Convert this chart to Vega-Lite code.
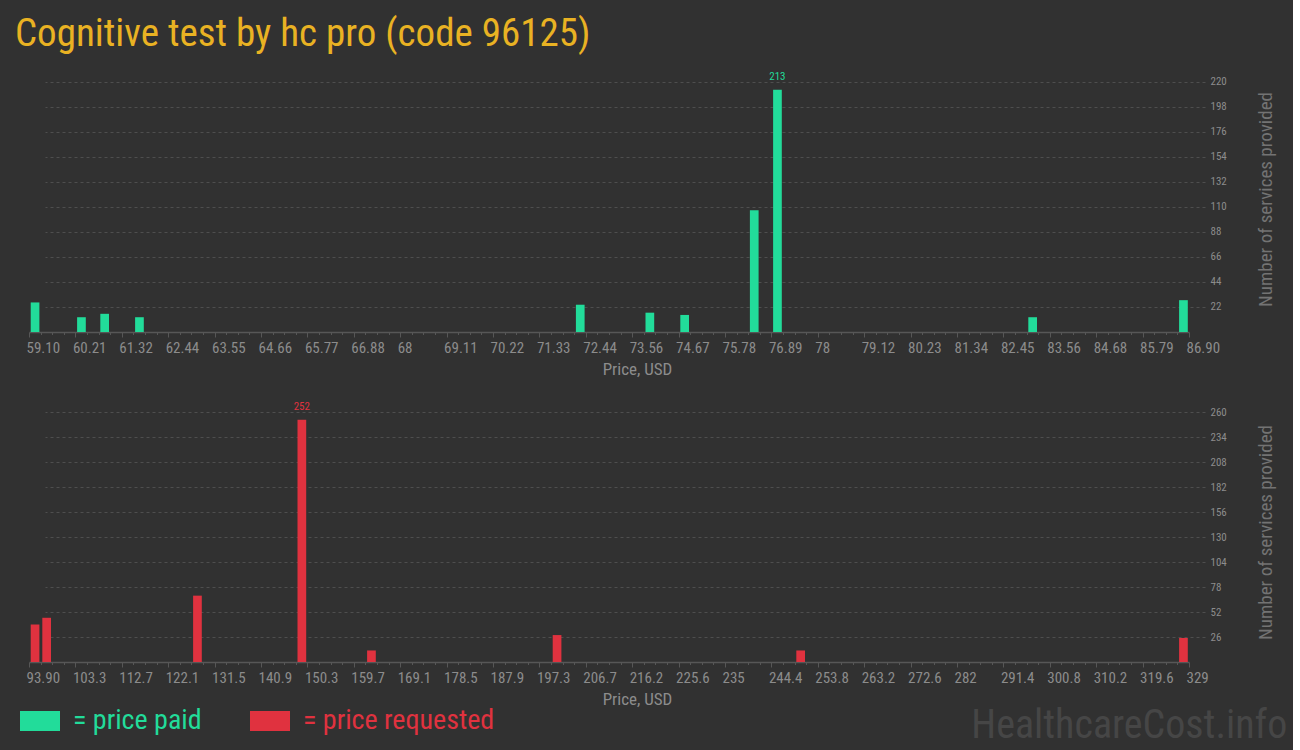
{
  "$schema": "https://vega.github.io/schema/vega-lite/v6.json",
  "background": "#313131",
  "padding": {"left": 15, "top": 15, "right": 5, "bottom": 5},
  "title": {
    "text": "Cognitive test by hc pro (code 96125)",
    "anchor": "start",
    "frame": "group",
    "dx": -14,
    "offset": -19,
    "baseline": "alphabetic",
    "fontSize": 39,
    "fontWeight": "normal",
    "color": "#e9b223"
  },
  "config": {
    "font": "Roboto Condensed, Liberation Sans Narrow, DejaVu Sans Condensed, sans-serif",
    "view": {"stroke": null}
  },
  "bounds": "flush",
  "spacing": 70,
  "resolve": {"scale": {"color": "shared"}, "legend": {"color": "shared"}},
  "vconcat": [
    {
      "width": 1176,
      "height": 266,
      "data": {
        "values": [
          {"lo": 59.1, "hi": 59.378, "n": 26, "series": "= price paid"},
          {"lo": 60.212, "hi": 60.49, "n": 13, "series": "= price paid"},
          {"lo": 60.768, "hi": 61.046, "n": 16, "series": "= price paid"},
          {"lo": 61.602, "hi": 61.88, "n": 13, "series": "= price paid"},
          {"lo": 72.166, "hi": 72.444, "n": 24, "series": "= price paid"},
          {"lo": 73.834, "hi": 74.112, "n": 17, "series": "= price paid"},
          {"lo": 74.668, "hi": 74.946, "n": 15, "series": "= price paid"},
          {"lo": 76.336, "hi": 76.614, "n": 107, "series": "= price paid"},
          {"lo": 76.892, "hi": 77.17, "n": 213, "series": "= price paid"},
          {"lo": 83.008, "hi": 83.286, "n": 13, "series": "= price paid"},
          {"lo": 86.622, "hi": 86.9, "n": 28, "series": "= price paid"}
        ]
      },
      "layer": [
        {
          "mark": {"type": "rect", "xOffset": 1.7, "x2Offset": -1.2},
          "encoding": {
            "x": {
              "field": "lo", "type": "quantitative",
              "scale": {"domain": [59.1, 86.9], "range": [0, 1160], "nice": false, "zero": false},
              "axis": {
                "title": "Price, USD",
                "tickCount": 500,
                "values": [59.1,59.378,59.656,59.934,60.212,60.49,60.768,61.046,61.324,61.602,61.88,62.158,62.436,62.714,62.992,63.27,63.548,63.826,64.104,64.382,64.66,64.938,65.216,65.494,65.772,66.05,66.328,66.606,66.884,67.162,67.44,67.718,67.996,68.274,68.552,68.83,69.108,69.386,69.664,69.942,70.22,70.498,70.776,71.054,71.332,71.61,71.888,72.166,72.444,72.722,73.0,73.278,73.556,73.834,74.112,74.39,74.668,74.946,75.224,75.502,75.78,76.058,76.336,76.614,76.892,77.17,77.448,77.726,78.004,78.282,78.56,78.838,79.116,79.394,79.672,79.95,80.228,80.506,80.784,81.062,81.34,81.618,81.896,82.174,82.452,82.73,83.008,83.286,83.564,83.842,84.12,84.398,84.676,84.954,85.232,85.51,85.788,86.066,86.344,86.622,86.9],
                "labelExpr": "abs(datum.value - 59.1 - 1.112*round((datum.value - 59.1)/1.112)) < 0.01 ? ((datum.value < 59.2 || datum.value > 86.8) ? format(datum.value, '.2f') : format(datum.value, '.2~f')) : ''",
                "tickSize": {"condition": {"test": "abs(datum.value - 59.1 - 1.112*round((datum.value - 59.1)/1.112)) < 0.01", "value": 5}, "value": 2.5},
                "labelAlign": "left",
                "labelOffset": -3,
                "labelOverlap": false,
                "labelFlush": false,
                "labelBound": false,
                "labelFontSize": 15,
                "labelColor": "#8c8c8c",
                "labelPadding": 3,
                "tickColor": "#575757",
                "domainColor": "#575757",
                "domainWidth": 1.5,
                "grid": false,
                "titleFontSize": 17,
                "titleColor": "#8c8c8c",
                "titleFontWeight": "normal",
                "titlePadding": 6,
                "titleX": 608,
                "titleAlign": "center"
              }
            },
            "x2": {"field": "hi"},
            "y": {
              "field": "n", "type": "quantitative",
              "scale": {"domain": [0, 234], "nice": false},
              "axis": {
                "orient": "right",
                "tickCount": 50,
                "values": [22, 44, 66, 88, 110, 132, 154, 176, 198, 220],
                "grid": true,
                "gridColor": "#4e4e4e",
                "gridDash": [3, 3],
                "domain": false,
                "ticks": false,
                "labelOverlap": false,
                "labelPadding": 5,
                "labelFontSize": 11,
                "labelColor": "#8c8c8c",
                "title": "Number of services provided",
                "titleFontSize": 19,
                "titleColor": "#737373",
                "titleFontWeight": "normal",
                "titleAngle": 270,
                "titleBaseline": "top",
                "titlePadding": 30
              }
            },
            "y2": {"datum": 0},
            "color": {
              "field": "series", "type": "nominal",
              "scale": {"domain": ["= price paid", "= price requested"], "range": ["#22dc9a", "#e0323f"]},
              "legend": {
                "orient": "none",
                "legendX": -9,
                "legendY": 635,
                "direction": "horizontal",
                "title": null,
                "symbolType": "M-1,-0.5H1V0.5H-1Z",
                "symbolSize": 1600,
                "symbolStrokeWidth": 0,
                "symbolOpacity": 1,
                "labelFontSize": 28,
                "labelOffset": 13,
                "labelLimit": 500,
                "columnPadding": 48,
                "labelColor": {"expr": "datum.value == '= price paid' ? '#22dc9a' : '#e0323f'"}
              }
            }
          }
        },
        {
          "transform": [
            {"joinaggregate": [{"op": "max", "field": "n", "as": "mx"}]},
            {"filter": "datum.n == datum.mx"}
          ],
          "mark": {"type": "text", "fill": "#22dc9a", "fontSize": 11, "dx": 6, "dy": -10, "baseline": "alphabetic", "align": "center"},
          "encoding": {
            "x": {"field": "lo", "type": "quantitative"},
            "y": {"field": "n", "type": "quantitative"},
            "text": {"field": "n", "type": "quantitative"}
          }
        }
      ]
    },
    {
      "width": 1176,
      "height": 260,
      "title": {
        "text": "HealthcareCost.info",
        "orient": "bottom",
        "anchor": "end",
        "fontSize": 40,
        "fontWeight": "normal",
        "color": "#464646",
        "offset": -1,
        "dx": 12
      },
      "data": {
        "values": [
          {"lo": 93.9, "hi": 96.251, "n": 39, "series": "= price requested"},
          {"lo": 96.251, "hi": 98.602, "n": 46, "series": "= price requested"},
          {"lo": 126.814, "hi": 129.165, "n": 69, "series": "= price requested"},
          {"lo": 147.973, "hi": 150.324, "n": 252, "series": "= price requested"},
          {"lo": 162.079, "hi": 164.43, "n": 12, "series": "= price requested"},
          {"lo": 199.695, "hi": 202.046, "n": 28, "series": "= price requested"},
          {"lo": 249.066, "hi": 251.417, "n": 12, "series": "= price requested"},
          {"lo": 326.649, "hi": 329.0, "n": 25, "series": "= price requested"}
        ]
      },
      "layer": [
        {
          "mark": {"type": "rect", "xOffset": 1.7, "x2Offset": -1.2},
          "encoding": {
            "x": {
              "field": "lo", "type": "quantitative",
              "scale": {"domain": [93.9, 329], "range": [0, 1160], "nice": false, "zero": false},
              "axis": {
                "title": "Price, USD",
                "tickCount": 500,
                "values": [93.9,96.251,98.602,100.953,103.304,105.655,108.006,110.357,112.708,115.059,117.41,119.761,122.112,124.463,126.814,129.165,131.516,133.867,136.218,138.569,140.92,143.271,145.622,147.973,150.324,152.675,155.026,157.377,159.728,162.079,164.43,166.781,169.132,171.483,173.834,176.185,178.536,180.887,183.238,185.589,187.94,190.291,192.642,194.993,197.344,199.695,202.046,204.397,206.748,209.099,211.45,213.801,216.152,218.503,220.854,223.205,225.556,227.907,230.258,232.609,234.96,237.311,239.662,242.013,244.364,246.715,249.066,251.417,253.768,256.119,258.47,260.821,263.172,265.523,267.874,270.225,272.576,274.927,277.278,279.629,281.98,284.331,286.682,289.033,291.384,293.735,296.086,298.437,300.788,303.139,305.49,307.841,310.192,312.543,314.894,317.245,319.596,321.947,324.298,326.649,329],
                "labelExpr": "abs(datum.value - 93.9 - 9.404*round((datum.value - 93.9)/9.404)) < 0.05 ? (datum.value < 94 ? format(datum.value, '.2f') : format(datum.value, '.1~f')) : ''",
                "tickSize": {"condition": {"test": "abs(datum.value - 93.9 - 9.404*round((datum.value - 93.9)/9.404)) < 0.05", "value": 5}, "value": 2.5},
                "labelAlign": "left",
                "labelOffset": -3,
                "labelOverlap": false,
                "labelFlush": false,
                "labelBound": false,
                "labelFontSize": 15,
                "labelColor": "#8c8c8c",
                "labelPadding": 3,
                "tickColor": "#575757",
                "domainColor": "#575757",
                "domainWidth": 1.5,
                "grid": false,
                "titleFontSize": 17,
                "titleColor": "#8c8c8c",
                "titleFontWeight": "normal",
                "titlePadding": 6,
                "titleX": 608,
                "titleAlign": "center"
              }
            },
            "x2": {"field": "hi"},
            "y": {
              "field": "n", "type": "quantitative",
              "scale": {"domain": [0, 270.4], "nice": false},
              "axis": {
                "orient": "right",
                "tickCount": 50,
                "values": [26, 52, 78, 104, 130, 156, 182, 208, 234, 260],
                "grid": true,
                "gridColor": "#4e4e4e",
                "gridDash": [3, 3],
                "domain": false,
                "ticks": false,
                "labelOverlap": false,
                "labelPadding": 5,
                "labelFontSize": 11,
                "labelColor": "#8c8c8c",
                "title": "Number of services provided",
                "titleFontSize": 19,
                "titleColor": "#737373",
                "titleFontWeight": "normal",
                "titleAngle": 270,
                "titleBaseline": "top",
                "titlePadding": 30
              }
            },
            "y2": {"datum": 0},
            "color": {
              "field": "series", "type": "nominal",
              "scale": {"domain": ["= price paid", "= price requested"], "range": ["#22dc9a", "#e0323f"]}
            }
          }
        },
        {
          "transform": [
            {"joinaggregate": [{"op": "max", "field": "n", "as": "mx"}]},
            {"filter": "datum.n == datum.mx"}
          ],
          "mark": {"type": "text", "fill": "#e0323f", "fontSize": 11, "dx": 6, "dy": -10, "baseline": "alphabetic", "align": "center"},
          "encoding": {
            "x": {"field": "lo", "type": "quantitative"},
            "y": {"field": "n", "type": "quantitative"},
            "text": {"field": "n", "type": "quantitative"}
          }
        }
      ]
    }
  ]
}
